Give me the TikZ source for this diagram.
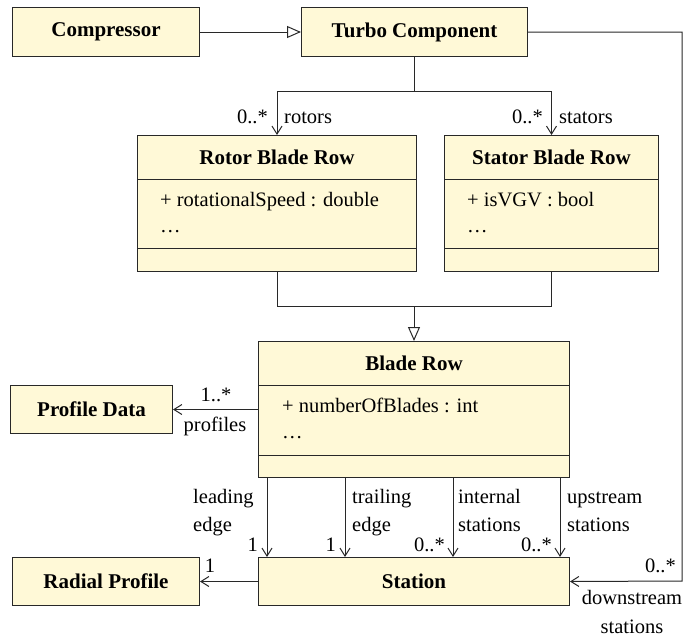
\documentclass[tikz,border=0pt]{standalone}
\usepackage{fontspec}
\setmainfont{Liberation Serif}
\usetikzlibrary{arrows.meta}
\definecolor{boxfill}{RGB}{255,249,215}
\definecolor{ink}{RGB}{40,40,40}
\tikzset{
  cls/.style={draw=ink, fill=boxfill, line width=1pt, inner sep=0pt, anchor=north west,
    font=\fontsize{21}{24}\selectfont\bfseries},
  title/.style={font=\fontsize{21}{24}\selectfont\bfseries, inner sep=0pt},
  txt/.style={font=\fontsize{20.5}{28}\selectfont, inner sep=0pt},
  conn/.style={draw=ink, line width=1pt},
  assoc/.style={conn, -{Straight Barb[length=8pt,width=10pt]}},
  gen/.style={conn, -{Triangle[open, length=14pt, width=12pt, fill=white]}},
}
\begin{document}
\begin{tikzpicture}[x=1pt, y=-1pt]
\useasboundingbox (0,0) rectangle (696,643);

% single-compartment classes
\node[cls, minimum width=187pt, minimum height=49pt] (comp) at (12,7) {Compressor};
\node[cls, minimum width=226pt, minimum height=49pt] (turbo) at (301,7) {Turbo Component};
\node[cls, minimum width=162pt, minimum height=48pt] (profile) at (10,385) {Profile Data};
\node[cls, minimum width=187pt, minimum height=48pt] (radial) at (12,557) {Radial Profile};
\node[cls, minimum width=311pt, minimum height=48pt] (station) at (258,557) {Station};

% multi-compartment classes
\node[cls, minimum width=279pt, minimum height=136pt] (rotor) at (137,135) {};
\node[cls, minimum width=214pt, minimum height=136pt] (stator) at (444,135) {};
\node[cls, minimum width=311pt, minimum height=136pt] (blade) at (258,341) {};

\draw[conn] (rotor.west |- 0,179) -- (rotor.east |- 0,179);
\draw[conn] (rotor.west |- 0,248) -- (rotor.east |- 0,248);
\draw[conn] (stator.west |- 0,179) -- (stator.east |- 0,179);
\draw[conn] (stator.west |- 0,248) -- (stator.east |- 0,248);
\draw[conn] (blade.west |- 0,385) -- (blade.east |- 0,385);
\draw[conn] (blade.west |- 0,455) -- (blade.east |- 0,455);

\node[title] (rotorT) at (rotor.north |- 0,157) {Rotor Blade Row};
\node[title] (statorT) at (stator.north |- 0,157) {Stator Blade Row};
\node[title] (bladeT) at (blade.north |- 0,363) {Blade Row};

\node[txt, anchor=base west] (rotorA) at (160,206) {+ rotationalSpeed : double};
\node[txt, anchor=base west] (rotorD) at (160,232) {\dots};
\node[txt, anchor=base west] (statorA) at (467,206) {+ isVGV : bool};
\node[txt, anchor=base west] (statorD) at (467,232) {\dots};
\node[txt, anchor=base west] (bladeA) at (282,412) {+ numberOfBlades : int};
\node[txt, anchor=base west] (bladeD) at (282,438) {\dots};

% generalizations
\draw[gen] (comp.east) -- (turbo.west);
\coordinate (gj) at (blade.north |- 0,306);
\draw[conn] (rotor.south) |- (gj);
\draw[conn] (stator.south) |- (gj);
\draw[gen] (gj) -- (blade.north);

% turbo associations
\coordinate (tj) at (turbo.south |- 0,91);
\draw[conn] (turbo.south) -- (tj);
\draw[assoc] (tj) -| (rotor.north);
\draw[assoc] (tj) -| (stator.north);
\node[txt, anchor=base east] (rotM) at (268,123) {0..*};
\node[txt, anchor=base west] (rotL) at (284,123) {rotors};
\node[txt, anchor=base east] (statM) at (543,123) {0..*};
\node[txt, anchor=base west] (statL) at (559,123) {stators};

\coordinate (rc) at (682,581);
\draw[assoc] (turbo.east) -| (rc) -- (station.east);
\node[txt, anchor=base east] (downM) at (676,572) {0..*};
\node[txt, anchor=north, align=center, font=\fontsize{20.5}{29}\selectfont] (downL) at (632,590) {downstream\\stations};

% profiles
\draw[assoc] (blade.west |- profile.east) -- (profile.east);
\node[txt, anchor=base] (profM) at (216,401) {1..*};
\node[txt, anchor=base] (profL) at (215,431) {profiles};

% radial
\draw[assoc] (station.west) -- (radial.east);
\node[txt, anchor=base] (radM) at (210,572) {1};

% blade -> station
\foreach \n/\xx in {le/267, te/345, is/453, us/560}{
  \coordinate (\n a) at (blade.south -| \xx,0);
  \coordinate (\n b) at (station.north -| \xx,0);
  \draw[assoc] (\n a) -- (\n b);
}
\node[txt, anchor=base east] (leM) at (258,551) {1};
\node[txt, anchor=base east] (teM) at (336,551) {1};
\node[txt, anchor=base east] (isM) at (445,551) {0..*};
\node[txt, anchor=base east] (usM) at (552,551) {0..*};
\node[txt, anchor=base west] (leL1) at (193,503) {leading};
\node[txt, anchor=base west] (leL2) at (193,531) {edge};
\node[txt, anchor=base west] (teL1) at (352,503) {trailing};
\node[txt, anchor=base west] (teL2) at (352,531) {edge};
\node[txt, anchor=base west] (isL1) at (458,503) {internal};
\node[txt, anchor=base west] (isL2) at (458,531) {stations};
\node[txt, anchor=base west] (usL1) at (567,503) {upstream};
\node[txt, anchor=base west] (usL2) at (567,531) {stations};
\end{tikzpicture}
\end{document}
